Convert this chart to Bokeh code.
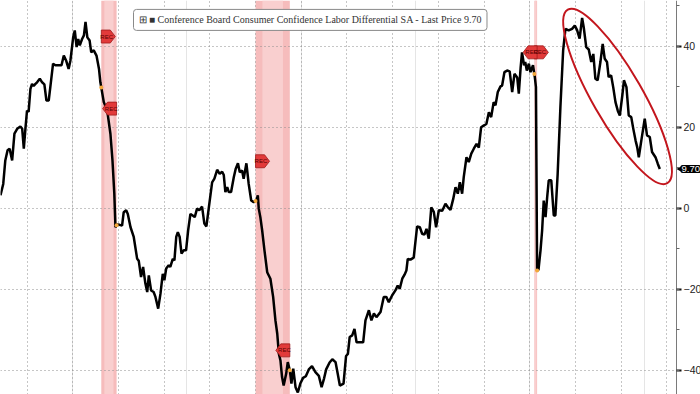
import numpy as np
from bokeh.plotting import figure
from bokeh.models import Range1d, SingleIntervalTicker, FixedTicker, Grid, Label
from bokeh.core.properties import value
from bokeh.embed import file_html
from bokeh.resources import INLINE

# ---------------- data ----------------
years = [
    1996.84, 1996.96, 1997.05, 1997.15, 1997.24, 1997.35, 1997.45, 1997.57, 1997.71, 1997.79,
    1997.86, 1997.93, 1998.00, 1998.07, 1998.15, 1998.22, 1998.29, 1998.37, 1998.44, 1998.56,
    1998.66, 1998.76, 1998.85, 1998.95, 1999.02, 1999.14, 1999.24, 1999.39, 1999.51, 1999.61,
    1999.71, 1999.82, 1999.90, 2000.02, 2000.09, 2000.17, 2000.24, 2000.31, 2000.41, 2000.49,
    2000.56, 2000.64, 2000.74, 2000.81, 2000.92, 2001.04, 2001.15, 2001.21, 2001.36, 2001.51,
    2001.65, 2001.74, 2001.82, 2001.87, 2001.94, 2002.05, 2002.16, 2002.23, 2002.34, 2002.41,
    2002.53, 2002.67, 2002.82, 2002.89, 2002.99, 2003.08, 2003.18, 2003.26, 2003.33, 2003.43,
    2003.54, 2003.62, 2003.74, 2003.84, 2003.94, 2004.01, 2004.09, 2004.20, 2004.27, 2004.38,
    2004.45, 2004.53, 2004.60, 2004.68, 2004.76, 2004.86, 2004.96, 2005.05, 2005.15, 2005.25,
    2005.34, 2005.44, 2005.54, 2005.66, 2005.76, 2005.85, 2005.95, 2006.10, 2006.20, 2006.32,
    2006.43, 2006.54, 2006.61, 2006.68, 2006.76, 2006.83, 2006.93, 2007.05, 2007.13, 2007.23,
    2007.31, 2007.41, 2007.48, 2007.60, 2007.70, 2007.81, 2007.92, 2008.04, 2008.10, 2008.14,
    2008.21, 2008.29, 2008.39, 2008.51, 2008.65, 2008.77, 2008.87, 2008.95, 2009.02, 2009.09,
    2009.16, 2009.23, 2009.34, 2009.41, 2009.50, 2009.57, 2009.65, 2009.75, 2009.85, 2009.96,
    2010.08, 2010.20, 2010.33, 2010.47, 2010.62, 2010.77, 2010.89, 2011.00, 2011.09, 2011.24,
    2011.36, 2011.50, 2011.60, 2011.69, 2011.85, 2011.96, 2012.04, 2012.12, 2012.23, 2012.33,
    2012.42, 2012.56, 2012.71, 2012.81, 2012.96, 2013.07, 2013.18, 2013.29, 2013.47, 2013.61,
    2013.72, 2013.83, 2013.98, 2014.12, 2014.22, 2014.31, 2014.42, 2014.52, 2014.60, 2014.66,
    2014.78, 2014.92, 2015.07, 2015.19, 2015.29, 2015.39, 2015.48, 2015.58, 2015.69, 2015.80,
    2015.90, 2016.02, 2016.17, 2016.31, 2016.41, 2016.53, 2016.65, 2016.75, 2016.85, 2016.94,
    2017.04, 2017.11, 2017.23, 2017.33, 2017.44, 2017.55, 2017.67, 2017.77, 2017.87, 2017.98,
    2018.10, 2018.21, 2018.31, 2018.42, 2018.50, 2018.60, 2018.72, 2018.79, 2018.89, 2019.01,
    2019.12, 2019.23, 2019.33, 2019.45, 2019.52, 2019.60, 2019.66, 2019.75, 2019.80, 2019.87,
    2019.96, 2020.03, 2020.14, 2020.22, 2020.27, 2020.32, 2020.38, 2020.47, 2020.54, 2020.61,
    2020.69, 2020.76, 2020.83, 2020.94, 2021.05, 2021.12, 2021.22, 2021.34, 2021.46, 2021.56,
    2021.70, 2021.85, 2021.97, 2022.07, 2022.18, 2022.29, 2022.36, 2022.47, 2022.58, 2022.69,
    2022.78, 2022.87, 2022.97, 2023.09, 2023.19, 2023.28, 2023.38, 2023.45, 2023.56, 2023.65,
    2023.75, 2023.85, 2023.94, 2024.05, 2024.12, 2024.23, 2024.33, 2024.44, 2024.53, 2024.63,
    2024.70, 2024.77, 2024.88, 2024.96, 2025.03, 2025.13, 2025.25, 2025.35, 2025.50, 2025.60,
    2025.69,
]
values = [
    3.2, 6.0, 11.8, 14.3, 14.7, 11.8, 18.4, 19.6, 20.2, 19.6,
    14.7, 19.6, 24.1, 23.8, 29.5, 30.7, 30.2, 30.7, 31.1, 32.0,
    31.1, 30.6, 26.6, 26.6, 29.9, 35.7, 35.3, 35.3, 35.3, 37.7,
    36.5, 34.4, 36.5, 42.2, 43.9, 39.8, 41.8, 40.2, 41.8, 42.7,
    46.0, 42.2, 41.4, 38.5, 39.0, 37.7, 34.4, 31.1, 26.2, 24.1,
    18.4, 11.8, 3.6, -4.7, -4.0, -4.1, -4.3, -1.0, -0.5, -1.4,
    -4.7, -7.1, -12.5, -13.0, -17.0, -14.5, -18.6, -20.7, -16.6, -20.3,
    -20.7, -21.9, -24.8, -21.1, -16.2, -17.8, -14.9, -14.1, -14.5, -12.5,
    -12.9, -7.1, -5.9, -7.1, -11.2, -10.4, -10.4, -5.5, -1.4, -1.8,
    -2.2, -0.1, -0.5, 0.4, -3.8, -4.5, -0.1, 6.4, 7.3, 9.5,
    8.5, 9.0, 8.2, 4.0, 5.2, 4.0, 4.0, 7.7, 9.7, 11.1,
    8.9, 9.3, 7.3, 11.1, 6.0, 1.9, 1.5, 1.9, 3.2, -0.1,
    -2.2, -5.5, -10.4, -15.8, -17.4, -21.9, -27.7, -31.0, -35.9, -37.6,
    -41.7, -43.8, -40.9, -38.0, -40.0, -43.3, -39.6, -44.2, -45.5, -43.3,
    -41.9, -41.5, -39.8, -39.0, -40.5, -41.4, -44.2, -42.0, -39.8, -38.1,
    -37.3, -38.0, -41.0, -43.8, -43.3, -36.5, -36.0, -31.8, -31.4, -29.8,
    -33.1, -33.1, -33.1, -27.7, -25.2, -27.7, -26.0, -26.9, -25.6, -21.9,
    -21.9, -23.2, -21.5, -20.3, -19.1, -19.9, -17.4, -16.4, -15.4, -12.5,
    -12.7, -12.2, -4.5, -4.7, -6.3, -6.5, -5.1, -7.5, 0.2, -0.9,
    -4.7, -0.5, -0.6, 1.1, 0.3, -0.4, 2.3, 5.2, 3.6, 6.4,
    3.6, 7.7, 12.6, 11.4, 13.5, 14.7, 15.9, 15.0, 20.0, 20.4,
    20.8, 23.7, 22.5, 26.2, 25.4, 28.7, 30.1, 30.3, 33.6, 34.0,
    33.8, 28.7, 33.2, 32.3, 28.3, 34.8, 38.5, 35.3, 36.1, 34.0,
    35.7, 33.6, 35.3, 32.4, 29.9, -15.4, -15.2, -10.4, -5.5, 1.9,
    -2.2, 2.7, 6.9, 6.9, -1.8, -1.8, 8.5, 25.0, 39.0, 44.3,
    43.9, 44.3, 45.1, 44.0, 41.9, 47.0, 44.7, 39.8, 39.2, 36.1,
    38.1, 32.0, 31.6, 36.1, 40.6, 36.9, 36.1, 32.4, 32.8, 29.9,
    26.2, 24.1, 22.9, 27.9, 31.6, 29.9, 22.9, 22.5, 19.6, 16.7,
    15.1, 12.6, 16.7, 19.6, 22.1, 18.0, 17.6, 13.9, 12.6, 11.0,
    9.7,
]

rec_starts = [2001.25, 2008.00, 2020.20]
rec_ends = [2001.92, 2009.50, 2020.32]
flag_start_vals = [42.4, 11.6, 38.5]   # REC markers at recession starts
flag_end_vals = [24.6, -35.1, 38.5]    # REC markers at recession ends

y_ticks_major = 20
grid_years = list(range(1998, 2027, 2))
series_name = "Conference Board Consumer Confidence Labor Differential SA - Last Price 9.70"
last_price = "9.70"

# ---------------- figure ----------------
FW, FH = 700, 394
X0, X1 = 1996.84, 2027.47      # full canvas width
AXIS_X = 2026.42               # where the value axis sits
Y0, Y1 = -46.0, 51.3

p = figure(frame_width=FW, frame_height=FH, x_range=Range1d(X0, X1), y_range=Range1d(Y0, Y1),
           output_backend="svg", toolbar_location=None,
           x_axis_location=None, y_axis_location="right", min_border=0)
p.outline_line_color = None
p.background_fill_color = "white"
p.border_fill_color = "white"

# axis (drawn at AXIS_X, labels to its right)
ax = p.yaxis[0]
ax.fixed_location = AXIS_X
ax.ticker = SingleIntervalTicker(interval=y_ticks_major, num_minor_ticks=2)
ax.axis_line_color = "#7a7a7a"
ax.axis_line_width = 1
ax.major_tick_line_color = "#111111"
ax.major_tick_line_width = 2
ax.major_tick_out = 5
ax.major_tick_in = 0
ax.minor_tick_line_color = "#666666"
ax.minor_tick_out = 3
ax.minor_tick_in = 0
ax.major_label_text_font = "Liberation Sans"
ax.major_label_text_font_size = "10.5px"
ax.major_label_text_color = "#222222"
ax.major_label_standoff = 2

# grids
p.ygrid.grid_line_color = "#8c8c8c"
p.ygrid.grid_line_dash = "1 3"
p.ygrid.grid_line_width = 1
xg = Grid(dimension=0, ticker=FixedTicker(ticks=grid_years),
          grid_line_color="#8c8c8c", grid_line_dash="1 3", grid_line_width=1)
p.add_layout(xg)

# recession shading
p.quad(left=rec_starts, right=rec_ends, bottom=Y0, top=Y1,
       fill_color="#f6bcbc", line_color=None, level="image")
inner_l = [s + (e - s) * 0.2 for s, e in zip(rec_starts, rec_ends)]
inner_r = [s + (e - s) * 0.8 for s, e in zip(rec_starts, rec_ends)]
p.quad(left=inner_l, right=inner_r, bottom=Y0, top=Y1,
       fill_color="#f9cfcf", line_color=None, level="image")

# blank margin to the right of the axis (grid stops at the axis)
p.quad(left=[AXIS_X], right=[X1], bottom=[Y0], top=[Y1],
       fill_color="white", line_color=None)

# main line
p.line(years, values, line_color="black", line_width=2.5)

# small orange markers at recession boundaries
bx = rec_starts + rec_ends
by = list(np.interp(bx, years, values))
p.scatter(bx, by, size=4, fill_color="#f3a73b", line_color=None)

# REC flags
ux = (X1 - X0) / FW
uy = (Y1 - Y0) / FH
body, tip, hh = 9.0, 5.0, 6.5
xs, ys, tx, ty = [], [], [], []
for x, yv in zip(rec_starts, flag_start_vals):
    xs.append([x, x + body * ux, x + (body + tip) * ux, x + body * ux, x])
    ys.append([yv + hh * uy, yv + hh * uy, yv, yv - hh * uy, yv - hh * uy])
    tx.append(x + body * 0.6 * ux)
    ty.append(yv)
for x, yv in zip(rec_ends, flag_end_vals):
    xs.append([x, x - body * ux, x - (body + tip) * ux, x - body * ux, x])
    ys.append([yv + hh * uy, yv + hh * uy, yv, yv - hh * uy, yv - hh * uy])
    tx.append(x - body * 0.6 * ux)
    ty.append(yv)
p.patches(xs, ys, fill_color="#e23a3a", line_color="#9e1a1a", line_width=0.8)
p.text(tx, ty, text=["REC"] * len(tx), text_font=value("Liberation Sans"),
       text_font_size="6px", text_color="#5a0000", text_align="center",
       text_baseline="middle")

# highlight ellipse
ell_x, ell_y = 2023.84, 27.6
p.ellipse(x=[ell_x], y=[ell_y], width=[200], height=[50],
          width_units="screen", height_units="screen", angle=-1.05,
          fill_alpha=0, line_color="#c3161d", line_width=2)

# legend box
leg = Label(x=2002.66, y=49.1, text="\u229e \u25a0 " + series_name,
            anchor="top_left", text_font="Liberation Sans Narrow",
            text_font_size="10px", text_color="#333333",
            background_fill_color="white", border_line_color="#8a8a8a",
            border_line_width=1, border_radius=3, padding=5)
p.add_layout(leg)

# last price tag (pointer + box)
p.scatter([AXIS_X + 4 * ux], [values[-1]], marker="triangle", angle=np.pi / 2,
          size=7, fill_color="black", line_color=None)
lp = Label(x=AXIS_X, y=values[-1], x_offset=4, text=last_price, anchor="center_left",
           text_font="Liberation Sans", text_font_size="9.5px", text_color="white",
           background_fill_color="black", border_radius=2, padding=1)
p.add_layout(lp)

open("out.html", "w").write(file_html(p, INLINE))
